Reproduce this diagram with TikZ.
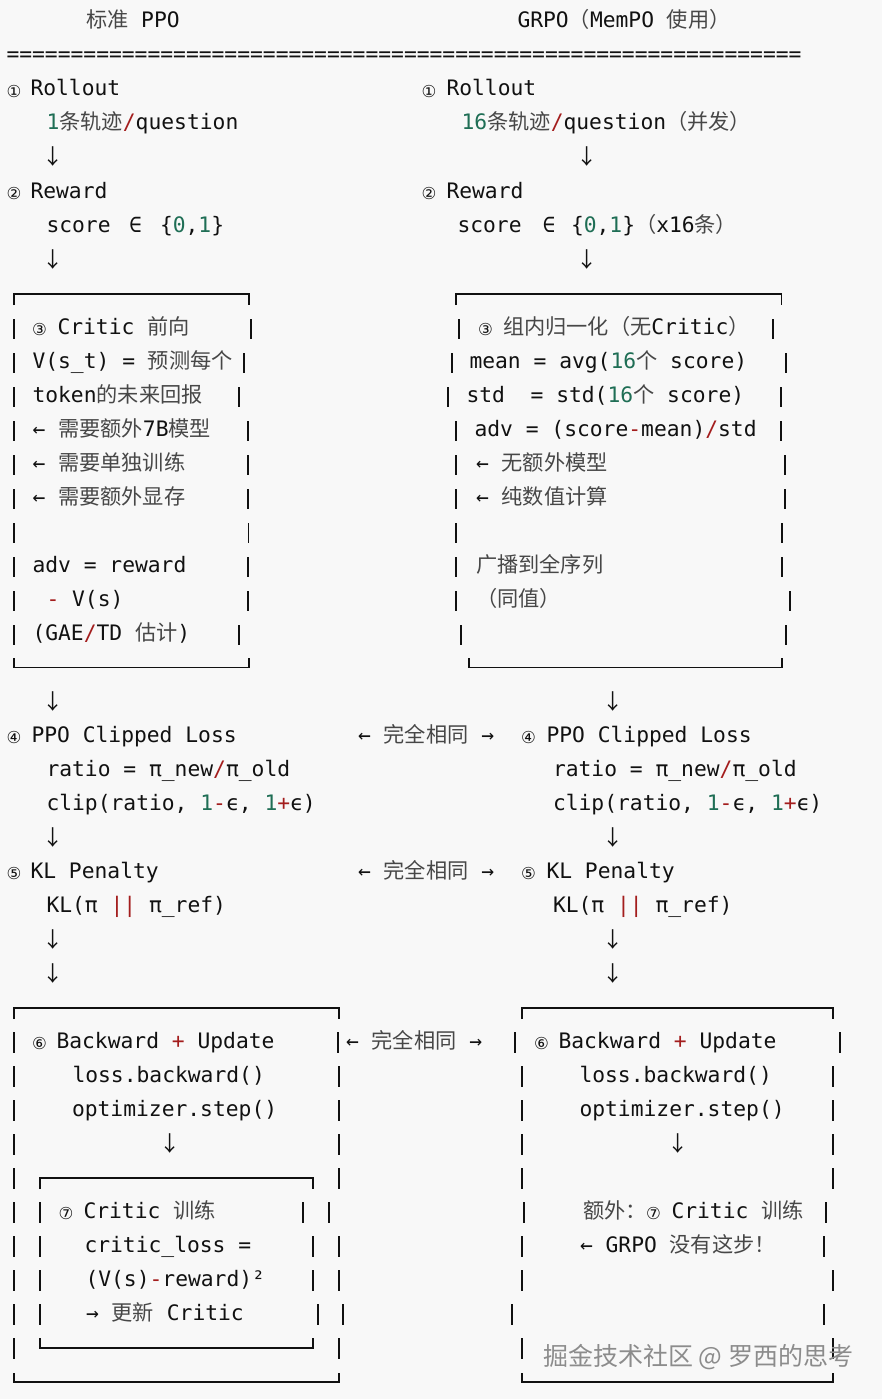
\documentclass[tikz,border=0pt]{standalone}
\usepackage{fontspec}
\setmainfont{DejaVu Sans Mono}
\newfontfamily\cjkf{Noto Sans CJK SC}
\newfontfamily\symf{DejaVu Sans}
\definecolor{bg}{HTML}{F8F8F8}
\definecolor{numc}{HTML}{1F6E55}
\definecolor{opc}{HTML}{A31D1D}
\definecolor{cjkc}{HTML}{474747}
\definecolor{ink}{HTML}{111111}
\definecolor{wm}{HTML}{8C8C8C}
\newcommand\cj[1]{{\cjkf\fontsize{21.2}{24}\selectfont\color{cjkc}#1}}
\newcommand\gn[1]{{\color{numc}#1}}
\newcommand\rd[1]{{\color{opc}#1}}
\begin{document}
\begin{tikzpicture}[x=1pt,y=-1pt,
  t/.style={anchor=base west,inner sep=0pt,outer sep=0pt,text=ink,font=\fontsize{21.3}{24}\selectfont},
  tc/.style={anchor=base,inner sep=0pt,outer sep=0pt,text=ink,font=\fontsize{21.3}{24}\selectfont},
  dn/.style={anchor=base,inner sep=0pt,outer sep=0pt,text=ink,font=\cjkf\fontsize{21.2}{24}\selectfont},
  cn/.style={anchor=center,inner sep=0pt,outer sep=0pt,text=ink,font=\symf\fontsize{16.5}{16.5}\selectfont},
  bar/.style={line width=1.5pt,draw=ink},
  hl/.style={line width=1.6pt,draw=ink}]
\fill[bg] (0,0) rectangle (882,1399);
\useasboundingbox (0,0) rectangle (882,1399);

% titles
\node[t] (titleL) at (86,28) {\cj{标准} PPO};
\node[t] (titleR) at (517.5,28) {GRPO\cj{（}MemPO \cj{使用）}};
\node[t] (rule) at (6.5,62) {==============================================================};

% steps 1-2
\node[cn] (c1L) at (14,91) {①};
\node[t] (rollL) at (30.5,96) {Rollout};
\node[cn] (c1R) at (429,91) {①};
\node[t] (rollR) at (446.5,96) {Rollout};
\node[t] (trajL) at (46.5,130) {\gn{1}\cj{条轨迹}\rd{/}question};
\node[t] (trajR) at (461.5,130) {\gn{16}\cj{条轨迹}\rd{/}question\cj{（并发）}};
\node[dn] (a1L) at (53,165) {↓};
\node[dn] (a1R) at (587,165) {↓};
\node[cn] (c2L) at (14,193) {②};
\node[t] (rewL) at (30.5,198) {Reward};
\node[cn] (c2R) at (429,193) {②};
\node[t] (rewR) at (446.5,198) {Reward};
\node[t] (scL) at (46.5,232) {score};
\node[tc] (inL) at (135.5,232) {∈};
\node[t] (setL) at (160,232) {\{\gn{0},\gn{1}\}};
\node[t] (scR) at (457.5,232) {score};
\node[tc] (inR) at (549,232) {∈};
\node[t] (setR) at (571,232) {\{\gn{0},\gn{1}\}\cj{（}x16\cj{条）}};
\node[dn] (a2L) at (53,267) {↓};
\node[dn] (a2R) at (587,267) {↓};

% step 3 boxes
\draw[hl] (14,305) -- (14,294) -- (249,294) -- (249,305);
\draw[hl] (456,305) -- (456,294) -- (781.5,294) -- (781.5,305);
\draw[hl] (14,658) -- (14,667.5) -- (249,667.5) -- (249,658);
\draw[hl] (469,658) -- (469,667.5) -- (782,667.5) -- (782,658);

\node[cn] (c3L) at (39.5,329) {③};
\node[t] (critL) at (57.5,334) {Critic \cj{前向}};
\node[cn] (c3R) at (485.5,329) {③};
\node[t] (normR) at (503,334) {\cj{组内归一化（无}Critic\cj{）}};
\node[t] (vL) at (32.5,368) {V(s\_t) = \cj{预测每个}};
\node[t] (meanR) at (469.5,368) {mean = avg(\gn{16}\cj{个} score)};
\node[t] (tokL) at (32.5,402) {token\cj{的未来回报}};
\node[t] (stdR) at (466.5,402) {std\ \ = std(\gn{16}\cj{个} score)};
\node[t] (n7bL) at (32.5,436) {← \cj{需要额外}7B\cj{模型}};
\node[t] (advR) at (474.5,436) {adv = (score\rd{-}mean)\rd{/}std};
\node[t] (trnL) at (32.5,470) {← \cj{需要单独训练}};
\node[t] (nomR) at (476,470) {← \cj{无额外模型}};
\node[t] (memL) at (32.5,504) {← \cj{需要额外显存}};
\node[t] (numR) at (476,504) {← \cj{纯数值计算}};
\node[t] (advL) at (32.5,572) {adv = reward};
\node[t] (bcR) at (476,572) {\cj{广播到全序列}};
\node[t] (vsL) at (46.5,606) {\rd{-} V(s)};
\node[t] (sameR) at (476,606) {\cj{（同值）}};
\node[t] (gaeL) at (32.5,640) {(GAE\rd{/}TD \cj{估计})};

\foreach \k/\xa/\xb in {9/14/251,10/14/244,11/14/239,12/14/248,13/14/248,14/14/248,15/14/248.5,16/14/248,17/14/248,18/14/239,
  9/459/773,10/452/786,11/448/781,12/456/781,13/456/785,14/456/785,15/456/782,16/456/782,17/456/790,18/461/786}{
  \draw[bar] (\xa,{13+34*\k}) -- (\xa,{33+34*\k});
  \draw[bar] (\xb,{13+34*\k}) -- (\xb,{33+34*\k});
}

% steps 4-5
\node[dn] (a3L) at (53,709) {↓};
\node[dn] (a3R) at (613,709) {↓};
\node[cn] (c4L) at (14,737) {④};
\node[t] (ppoL) at (31.5,742) {PPO Clipped Loss};
\node[t] (eq1) at (358,742) {← \cj{完全相同} →};
\node[cn] (c4R) at (528.5,737) {④};
\node[t] (ppoR) at (546.5,742) {PPO Clipped Loss};
\node[t] (ratL) at (46.5,776) {ratio = π\_new\rd{/}π\_old};
\node[t] (ratR) at (553,776) {ratio = π\_new\rd{/}π\_old};
\node[t] (clipL) at (46.5,810) {clip(ratio, \gn{1}\rd{-}ϵ, \gn{1}\rd{+}ϵ)};
\node[t] (clipR) at (553,810) {clip(ratio, \gn{1}\rd{-}ϵ, \gn{1}\rd{+}ϵ)};
\node[dn] (a4L) at (53,845) {↓};
\node[dn] (a4R) at (613,845) {↓};
\node[cn] (c5L) at (14,873) {⑤};
\node[t] (klL) at (30.5,878) {KL Penalty};
\node[t] (eq2) at (358,878) {← \cj{完全相同} →};
\node[cn] (c5R) at (528.5,873) {⑤};
\node[t] (klR) at (546.5,878) {KL Penalty};
\node[t] (kfL) at (46.5,912) {KL(π \rd{||} π\_ref)};
\node[t] (kfR) at (553,912) {KL(π \rd{||} π\_ref)};
\node[dn] (a5L) at (53,947) {↓};
\node[dn] (a5R) at (613,947) {↓};
\node[dn] (a6L) at (53,981) {↓};
\node[dn] (a6R) at (613,981) {↓};

% step 6 boxes
\draw[hl] (14,1019) -- (14,1008) -- (339,1008) -- (339,1019);
\draw[hl] (522,1019) -- (522,1008) -- (833,1008) -- (833,1019);
\draw[hl] (40,1189) -- (40,1178) -- (313,1178) -- (313,1189);
\draw[hl] (40,1338) -- (40,1348) -- (313,1348) -- (313,1338);
\draw[hl] (14,1373) -- (14,1382) -- (339,1382) -- (339,1373);
\draw[hl] (522,1373) -- (522,1382) -- (833,1382) -- (833,1373);

\node[cn] (c6L) at (39.5,1043) {⑥};
\node[t] (bwL) at (56.5,1048) {Backward \rd{+} Update};
\node[t] (eq3) at (346,1048) {← \cj{完全相同} →};
\node[cn] (c6R) at (541.5,1043) {⑥};
\node[t] (bwR) at (558.5,1048) {Backward \rd{+} Update};
\node[t] (lbL) at (72.5,1082) {loss.backward()};
\node[t] (lbR) at (579.5,1082) {loss.backward()};
\node[t] (osL) at (72,1116) {optimizer.step()};
\node[t] (osR) at (579.5,1116) {optimizer.step()};
\node[dn] (a7L) at (170,1151) {↓};
\node[dn] (a7R) at (678,1151) {↓};
\node[cn] (c7L) at (66,1213) {⑦};
\node[t] (ctL) at (83.5,1218) {Critic \cj{训练}};
\node[t] (exR) at (583,1218) {\cj{额外：}};
\node[cn] (c7R) at (653.5,1213) {⑦};
\node[t] (ctR) at (671.5,1218) {Critic \cj{训练}};
\node[t] (clL) at (84.5,1252) {critic\_loss =};
\node[t] (noR) at (580,1252) {← GRPO \cj{没有这步！}};
\node[t] (sqL) at (85.5,1286) {(V(s)\rd{-}reward)²};
\node[t] (upL) at (86,1320) {→ \cj{更新} Critic};

\foreach \k/\xa/\xb in {30/14/338,31/14/339,32/14/339,33/14/339,34/14/339,35/14/329,36/14/339,37/14/339,38/14/343,39/14/339,
  35/40/303,36/40/313,37/40/313,38/40/318,
  30/515/840,31/522/833,32/522/833,33/522/833,34/522/833,35/524/826,36/522/824,37/522/833,38/512/824,39/522/833}{
  \draw[bar] (\xa,{12+34*\k}) -- (\xa,{33+34*\k});
  \draw[bar] (\xb,{12+34*\k}) -- (\xb,{33+34*\k});
}

% watermark
\node[anchor=west,inner sep=0pt,text=wm,font=\cjkf\fontsize{25}{25}\selectfont] (wmk) at (543,1357) {掘金技术社区 @ 罗西的思考};
\end{tikzpicture}
\end{document}
